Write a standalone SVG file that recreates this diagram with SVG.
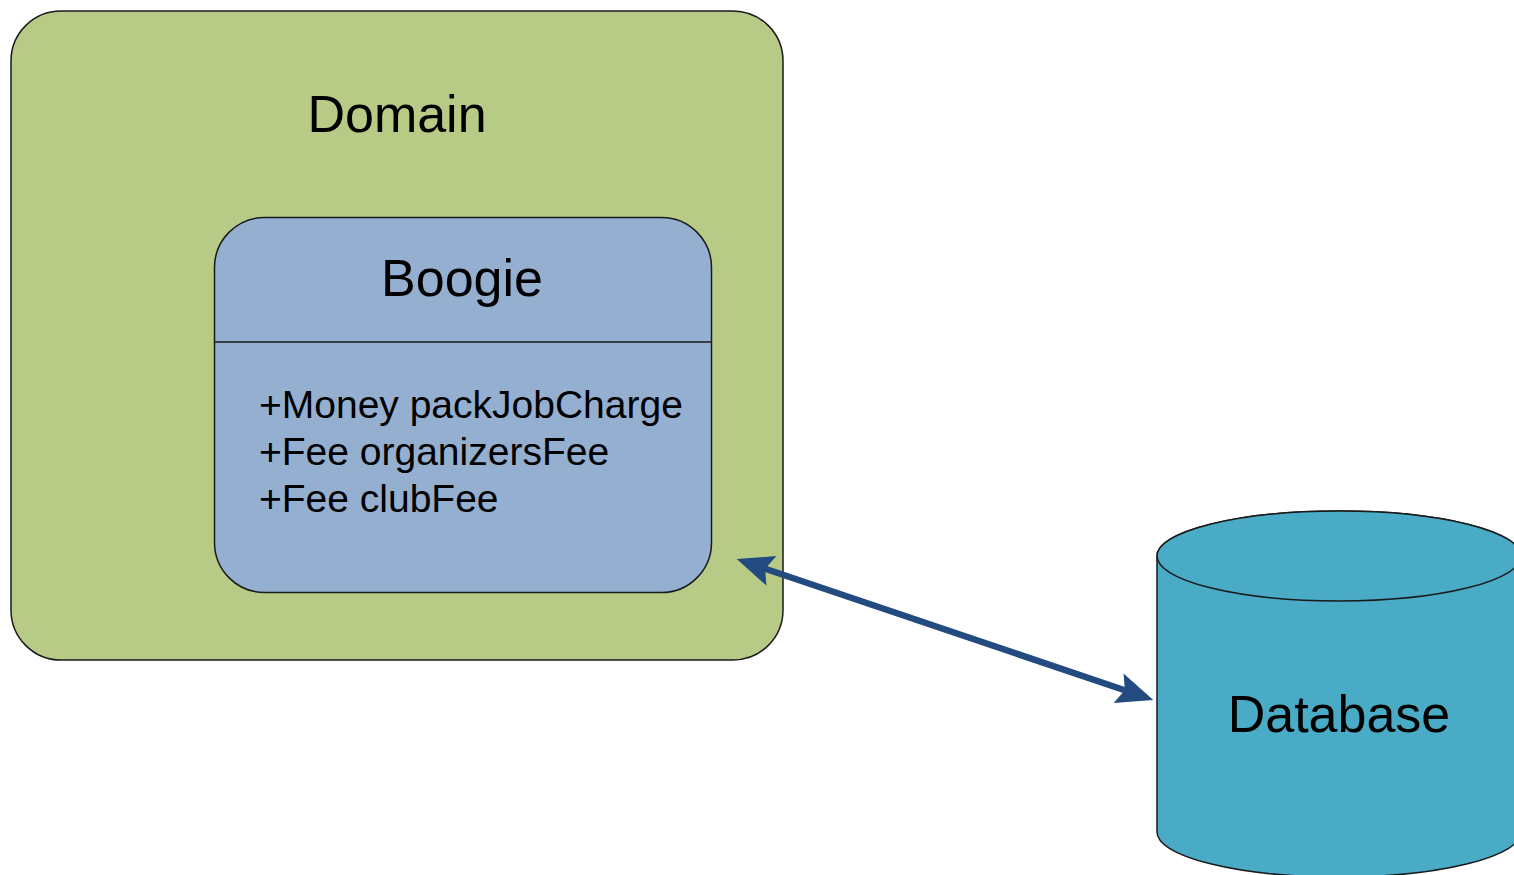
<svg xmlns="http://www.w3.org/2000/svg" width="1514" height="875" viewBox="0 0 1514 875">
<style>
text{font-family:"Liberation Sans",Arial,sans-serif;fill:#000}
.title{font-size:52px;text-anchor:middle}
.attr{font-size:39px}
.outline{stroke:#1a1a1a;stroke-width:1.5}
</style>
<defs>
<marker id="ah" markerUnits="userSpaceOnUse" markerWidth="40" markerHeight="40" viewBox="-34 -16 36 32" refX="-25" refY="0" orient="auto-start-reverse">
<path d="M0,0 L-33,-14 L-27,0 L-33,14 Z" fill="#234b80"/>
</marker>
</defs>
<rect width="1514" height="875" fill="#fff"/>
<g id="domain">
<rect class="outline" x="11" y="11" width="772" height="649" rx="50" ry="50" fill="#b7cb87"/>
<text class="title" x="397" y="132">Domain</text>
</g>
<g id="boogie">
<rect class="outline" x="214.5" y="217.5" width="497" height="375" rx="50" ry="50" fill="#95afd1"/>
<line class="outline" x1="214.5" y1="342" x2="711.5" y2="342"/>
<text class="title" x="462" y="296">Boogie</text>
<text class="attr" x="259" y="418">+Money packJobCharge</text>
<text class="attr" x="259" y="465">+Fee organizersFee</text>
<text class="attr" x="259" y="512">+Fee clubFee</text>
</g>
<g id="database">
<path class="outline" d="M1157,556 L1157,832 A182,45 0 0 0 1521,832 L1521,556 A182,45 0 0 0 1157,556 Z" fill="#49abc5"/>
<ellipse class="outline" cx="1339" cy="556" rx="182" ry="45" fill="#49abc5"/>
<text class="title" x="1339" y="732">Database</text>
</g>
<g id="connectors">
<line x1="763" y1="568" x2="1127" y2="691" stroke="#234b80" stroke-width="6.5" marker-start="url(#ah)" marker-end="url(#ah)"/>
</g>
</svg>
